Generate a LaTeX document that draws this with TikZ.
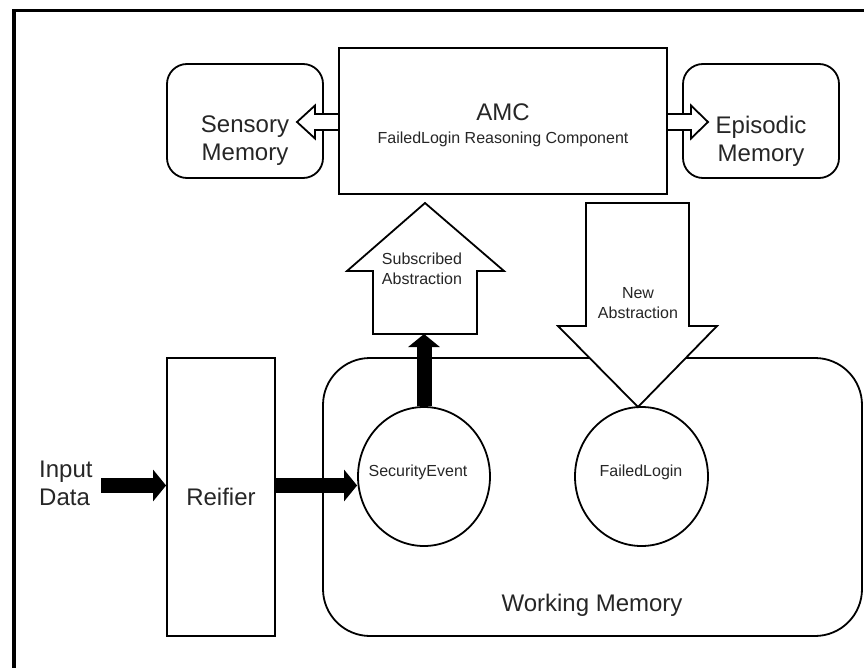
\documentclass[tikz,border=0pt]{standalone}
\usepackage{fontspec}
\setmainfont{Liberation Sans}
\usetikzlibrary{positioning,arrows.meta,shapes.geometric}

\tikzset{
  box/.style={draw,line width=1.8pt,inner sep=0pt},
  membox/.style={box,rounded corners=20pt},
  big/.style={font=\fontsize{24}{28}\selectfont,align=center,inner sep=0pt,text=black!85},
  small/.style={font=\fontsize{16}{20}\selectfont,align=center,inner sep=0pt,text=black!85},
  fatarrow/.style={line width=15pt,-{Triangle[length=13pt,width=31pt]}},
  hollow/.style={draw,fill=white,line width=1.8pt,line join=miter},
  item/.style={draw,ellipse,line width=1.8pt,inner sep=0pt,minimum width=132pt,minimum height=139pt}
}

\begin{document}
\begin{tikzpicture}[x=1pt,y=-1pt]
  \useasboundingbox (0,0) rectangle (864,668);

  \draw[line width=3.5pt] (14,668) -- (14,10.5) -- (864,10.5);

  \node[box,minimum width=328pt,minimum height=146pt] (amc) at (503,121) {};
  \node[big] (amclabel) at (503,112) {AMC};
  \node[small] (amcsub) at (503,139) {FailedLogin Reasoning Component};

  \node[membox,minimum width=156pt,minimum height=114pt] (sensory) at (245,121) {};
  \node[big] (sensorylabel) at (245,141) {Sensory\\Memory};
  \node[membox,minimum width=156pt,minimum height=114pt] (episodic) at (761,121) {};
  \node[big] (episodiclabel) at (761,141) {Episodic\\Memory};

  \draw[hollow] (339,114) -- (315,114) -- (315,105.5) -- (297,122) -- (315,138.5) -- (315,130) -- (339,130) -- cycle;
  \draw[hollow] (667,114) -- (691,114) -- (691,105.5) -- (708,122) -- (691,138.5) -- (691,130) -- (667,130) -- cycle;

  \node[membox,rounded corners=47pt,minimum width=539pt,minimum height=278pt] (wm) at (592.5,497) {};
  \node[big] (wmlabel) at (592,605) {Working Memory};

  \node[box,big,minimum width=108pt,minimum height=278pt] (reifier) at (221,497) {Reifier};
  \node[big,align=left,anchor=west] (input) at (39,483) {Input\\Data};

  \draw[hollow] (373,334) -- (373,271) -- (347,271) -- (425,203) -- (504,271) -- (477,271) -- (477,334) -- cycle;
  \node[small] (sublabel) at (422,269) {Subscribed\\Abstraction};
  \coordinate (subbase) at (424,334);

  \draw[hollow] (586,203) -- (689,203) -- (689,326) -- (717,326) -- (638,407) -- (558,326) -- (586,326) -- cycle;
  \node[small] (newlabel) at (638,303) {New\\Abstraction};

  \node[item] (secev) at (424,476.5) {};
  \node[small] (secevlabel) at (418,472) {SecurityEvent};
  \node[item,minimum width=133pt] (failed) at (641.5,476.5) {};
  \node[small] (failedlabel) at (641,472) {FailedLogin};

  \coordinate (indata) at (101,485.5);
  \draw[fatarrow] (indata) -- (reifier.west |- indata);
  \draw[fatarrow] (reifier.east |- indata) -- (secev.west |- indata);
  \draw[fatarrow] (secev.north) -- (subbase);
\end{tikzpicture}
\end{document}
